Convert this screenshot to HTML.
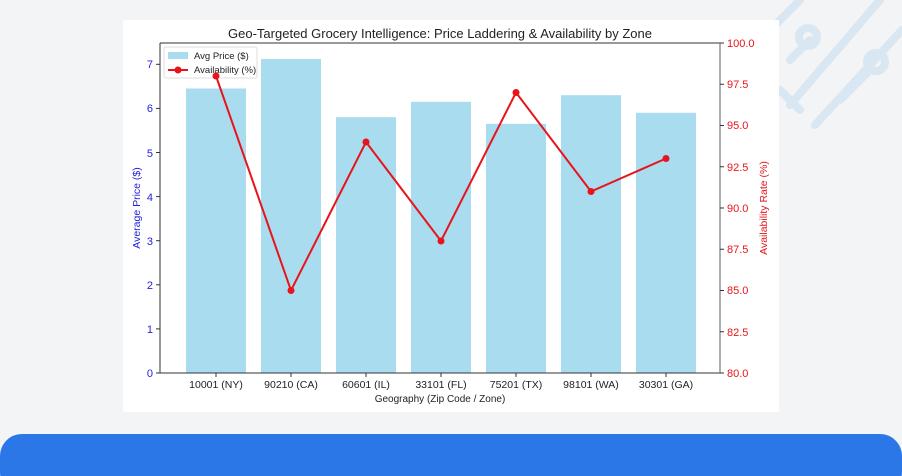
<!DOCTYPE html>
<html><head><meta charset="utf-8"><style>
html,body{margin:0;padding:0;width:902px;height:476px;overflow:hidden;background:#f3f4f5;font-family:"Liberation Sans",sans-serif}
</style></head><body>
<svg width="902" height="476" viewBox="0 0 902 476" xmlns="http://www.w3.org/2000/svg" style="position:absolute;left:0;top:0">
<rect width="902" height="476" fill="#f3f4f5"/>
<g stroke="#d8e7f2" stroke-width="8" fill="none" stroke-linecap="round">
<path d="M760 40 L800 0"/><path d="M790 105 L880 0"/><path d="M815 125 L902 30"/>
<path d="M790 60 L810 40"/><circle cx="808" cy="37" r="9"/><circle cx="876" cy="62" r="9"/>
<path d="M840 100 L870 70"/><path d="M800 110 L780 90"/>
</g>
<rect x="123" y="20" width="656" height="392" fill="#fff"/>
<rect x="0" y="434" width="902" height="60" rx="22" fill="#2b77e8"/>
<g fill="#a9dcef">
<rect x="186" y="88.5" width="60" height="284.5"/>
<rect x="261" y="59" width="60" height="314"/>
<rect x="336" y="117.2" width="60" height="255.8"/>
<rect x="411" y="101.8" width="60" height="271.2"/>
<rect x="486" y="123.8" width="60" height="249.2"/>
<rect x="561" y="95.2" width="60" height="277.8"/>
<rect x="636" y="112.8" width="60" height="260.2"/>
</g>
<g stroke="#333" stroke-width="1" fill="none">
<line x1="160" y1="43" x2="720" y2="43"/><line x1="160" y1="43" x2="160" y2="373"/>
<line x1="160" y1="373" x2="720" y2="373"/>
</g>
<line x1="720" y1="43" x2="720" y2="373" stroke="#777" stroke-width="1.2"/>
<g stroke="#333">
<line x1="156" y1="373" x2="160" y2="373"/><line x1="156" y1="328.9" x2="160" y2="328.9"/><line x1="156" y1="284.8" x2="160" y2="284.8"/><line x1="156" y1="240.7" x2="160" y2="240.7"/><line x1="156" y1="196.6" x2="160" y2="196.6"/><line x1="156" y1="152.5" x2="160" y2="152.5"/><line x1="156" y1="108.4" x2="160" y2="108.4"/><line x1="156" y1="64.3" x2="160" y2="64.3"/>
<line x1="216" y1="373" x2="216" y2="377"/><line x1="291" y1="373" x2="291" y2="377"/><line x1="366" y1="373" x2="366" y2="377"/><line x1="441" y1="373" x2="441" y2="377"/><line x1="516" y1="373" x2="516" y2="377"/><line x1="591" y1="373" x2="591" y2="377"/><line x1="666" y1="373" x2="666" y2="377"/>
</g>
<g stroke="#333">
<line x1="720" y1="43" x2="724" y2="43"/><line x1="720" y1="84.25" x2="724" y2="84.25"/><line x1="720" y1="125.5" x2="724" y2="125.5"/><line x1="720" y1="166.75" x2="724" y2="166.75"/><line x1="720" y1="208" x2="724" y2="208"/><line x1="720" y1="249.25" x2="724" y2="249.25"/><line x1="720" y1="290.5" x2="724" y2="290.5"/><line x1="720" y1="331.75" x2="724" y2="331.75"/><line x1="720" y1="373" x2="724" y2="373"/>
</g>
<g font-size="11" fill="#2222dd" text-anchor="end">
<text x="153" y="377">0</text><text x="153" y="333">1</text><text x="153" y="289">2</text><text x="153" y="245">3</text><text x="153" y="201">4</text><text x="153" y="157">5</text><text x="153" y="112">6</text><text x="153" y="68">7</text>
</g>
<g font-size="11" fill="#e8141c">
<text x="727" y="47">100.0</text><text x="727" y="88">97.5</text><text x="727" y="129">95.0</text><text x="727" y="171">92.5</text><text x="727" y="212">90.0</text><text x="727" y="253">87.5</text><text x="727" y="294">85.0</text><text x="727" y="336">82.5</text><text x="727" y="377">80.0</text>
</g>
<g font-size="10.5" fill="#222" text-anchor="middle">
<text x="216" y="388">10001 (NY)</text><text x="291" y="388">90210 (CA)</text><text x="366" y="388">60601 (IL)</text><text x="441" y="388">33101 (FL)</text><text x="516" y="388">75201 (TX)</text><text x="591" y="388">98101 (WA)</text><text x="666" y="388">30301 (GA)</text>
<text x="440" y="402" font-size="10">Geography (Zip Code / Zone)</text>
<text x="440" y="38" font-size="13">Geo-Targeted Grocery Intelligence: Price Laddering &amp; Availability by Zone</text>
</g>
<text transform="translate(140 208) rotate(-90)" text-anchor="middle" font-size="10.5" fill="#2222dd">Average Price ($)</text>
<text transform="translate(767 208) rotate(-90)" text-anchor="middle" font-size="10.5" fill="#e8141c">Availability Rate (%)</text>
<rect x="164" y="47" width="93" height="31" fill="#fff" stroke="#ddd" rx="2"/>
<rect x="168" y="52" width="20" height="7" fill="#a9dcef"/>
<text x="194" y="59" font-size="9.5" fill="#222">Avg Price ($)</text>
<line x1="168" y1="70" x2="188" y2="70" stroke="#e8141c" stroke-width="2"/><circle cx="178" cy="70" r="3.5" fill="#e8141c"/>
<text x="194" y="73" font-size="9.5" fill="#222">Availability (%)</text>
<polyline points="216,76 291,290.5 366,142 441,241 516,92.5 591,191.5 666,158.5" fill="none" stroke="#e8141c" stroke-width="2"/>
<g fill="#e8141c">
<circle cx="216" cy="76" r="3.5"/><circle cx="291" cy="290.5" r="3.5"/><circle cx="366" cy="142" r="3.5"/><circle cx="441" cy="241" r="3.5"/><circle cx="516" cy="92.5" r="3.5"/><circle cx="591" cy="191.5" r="3.5"/><circle cx="666" cy="158.5" r="3.5"/>
</g>
</svg>
</body></html>
